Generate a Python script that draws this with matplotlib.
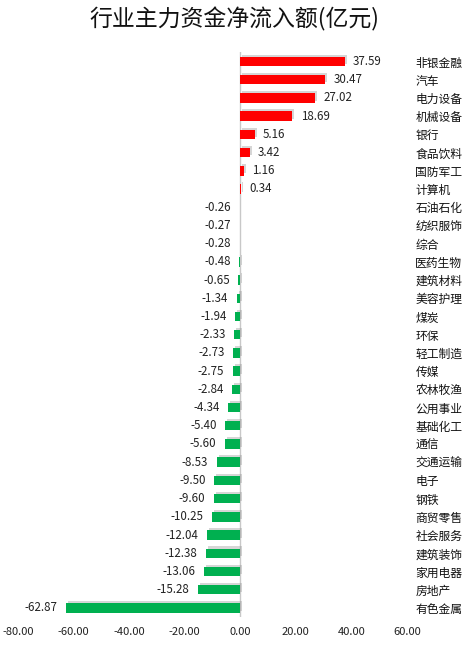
import matplotlib.pyplot as plt
import matplotlib.patheffects as pe

plt.rcParams['font.family'] = ['Noto Sans CJK SC', 'DejaVu Sans']

industries = ['非银金融', '汽车', '电力设备', '机械设备', '银行', '食品饮料', '国防军工', '计算机',
              '石油石化', '纺织服饰', '综合', '医药生物', '建筑材料', '美容护理', '煤炭', '环保',
              '轻工制造', '传媒', '农林牧渔', '公用事业', '基础化工', '通信', '交通运输', '电子',
              '钢铁', '商贸零售', '社会服务', '建筑装饰', '家用电器', '房地产', '有色金属']
net_inflow = [37.59, 30.47, 27.02, 18.69, 5.16, 3.42, 1.16, 0.34,
              -0.26, -0.27, -0.28, -0.48, -0.65, -1.34, -1.94, -2.33,
              -2.73, -2.75, -2.84, -4.34, -5.40, -5.60, -8.53, -9.50,
              -9.60, -10.25, -12.04, -12.38, -13.06, -15.28, -62.87]
x_ticks = [-80, -60, -40, -20, 0, 20, 40, 60]

fig = plt.figure(figsize=(4.69, 6.46), dpi=100)
ax = fig.add_axes([18 / 469, 1 - 617 / 646, (407 - 18) / 469, (617 - 52.4) / 646])

pos = list(range(len(industries)))
colors = ['#FF0000' if v >= 0 else '#00B050' for v in net_inflow]
bars = ax.barh(pos, net_inflow, height=0.52, color=colors, zorder=3)
for b in bars:
    b.set_path_effects([pe.SimplePatchShadow(offset=(1.5, 1.5), shadow_rgbFace='#999999', alpha=0.4),
                        pe.Normal()])

# value labels just outside the bar end
for y, v in zip(pos, net_inflow):
    off = 6 if v >= 0 else -6
    ax.annotate(f'{v:.2f}', (v, y), xytext=(off, 0), textcoords='offset points',
                ha='left' if v >= 0 else 'right', va='center', fontsize=8.3, color='#222222')

ax.axvline(0, color='#C8C8C8', lw=1, zorder=2, ymin=-0.005, ymax=1)

ax.set_xlim(-80, 60)
ax.set_ylim(len(industries) - 0.5, -0.5)
ax.set_xticks(x_ticks)
ax.set_xticklabels([f'{t:.2f}' for t in x_ticks], fontsize=8, color='#222222')
ax.set_yticks(pos)
ax.set_yticklabels(industries, fontsize=8.5, color='#111111')
ax.yaxis.tick_right()
ax.tick_params(axis='y', length=0, pad=6)
ax.tick_params(axis='x', length=0, pad=7)
for s in ax.spines.values():
    s.set_visible(False)

fig.text(0.5, 1 - 19 / 646, '行业主力资金净流入额(亿元)', ha='center', va='center',
         fontsize=16.5, color='#111111')

fig.savefig('out.png', dpi=100)
